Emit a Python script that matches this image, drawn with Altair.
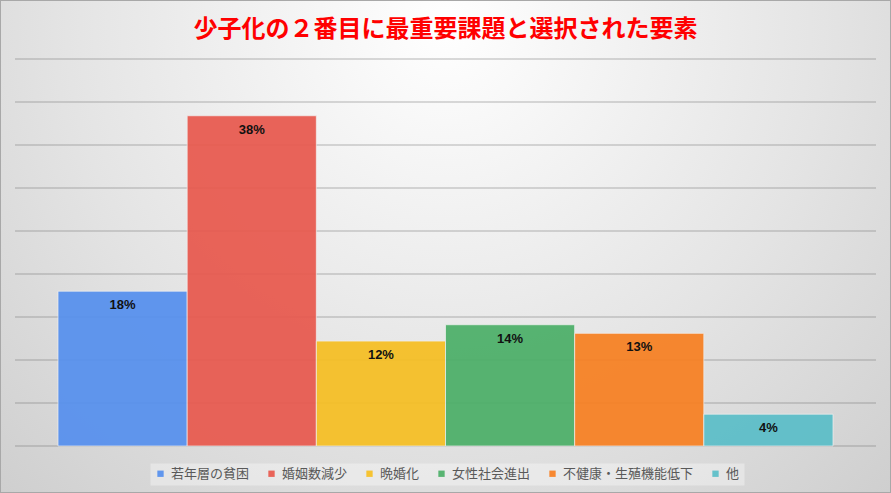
import altair as alt
import pandas as pd

categories = ["若年層の貧困", "婚姻数減少", "晩婚化", "女性社会進出", "不健康・生殖機能低下", "他"]
values = [18.0, 38.4, 12.2, 14.1, 13.1, 3.7]
colors = ["#5690EE", "#E8594E", "#F6BF23", "#4CAF68", "#F78022", "#5BBEC8"]
grid_values = [0, 5, 10, 15, 20, 25, 30, 35, 40, 45]
title_text = "少子化の２番目に最重要課題と選択された要素"

df = pd.DataFrame({"cat": categories, "val": values})
df["label"] = [f"{round(v):d}%" for v in values]
grid_df = pd.DataFrame({"v": grid_values})

W, H = 861, 387
PL, PT, PR, PB = 15, 59, 15, 47

yscale = alt.Scale(domain=[0, 45], nice=False)
xscale = alt.Scale(domain=categories, paddingInner=0, paddingOuter=0.333)

bg_grad = alt.RadialGradient(
    gradient="radial",
    x1=0.5, y1=0.25, r1=0.0,
    x2=0.5, y2=0.25, r2=0.85,
    stops=[
        alt.GradientStop(color="#FFFFFF", offset=0),
        alt.GradientStop(color="#E4E4E4", offset=0.5),
        alt.GradientStop(color="#C6C6C6", offset=1),
    ],
)

bg = alt.Chart(pd.DataFrame({"a": [0]})).mark_rect(
    fill=bg_grad, stroke="#A8A8A8", strokeWidth=2, clip=False
).encode(
    x=alt.value(-PL), x2=alt.value(W + PR),
    y=alt.value(-PT), y2=alt.value(H + PB),
)

grid = alt.Chart(grid_df).mark_rule(color="#6E6E6E", opacity=0.33, strokeWidth=1.5).encode(
    y=alt.Y("v:Q", scale=yscale, axis=None)
)

bars = alt.Chart(df).mark_bar(
    opacity=0.93, stroke="#F2F2F2", strokeWidth=1, strokeOpacity=0.7
).encode(
    x=alt.X("cat:N", sort=categories, scale=xscale, axis=None),
    y=alt.Y("val:Q", scale=yscale, axis=None),
    color=alt.Color(
        "cat:N",
        sort=categories,
        scale=alt.Scale(domain=categories, range=colors),
        legend=alt.Legend(
            title=None,
            orient="none",
            direction="horizontal",
            legendX=135,
            legendY=404,
            symbolType="square",
            symbolSize=40,
            symbolStrokeWidth=0,
            labelFont="Noto Sans CJK JP",
            labelFontSize=13,
            labelColor="#595959",
            labelOffset=4,
            columnPadding=15,
            padding=4,
            fillColor="rgba(255,255,255,0.35)",
            strokeColor="transparent",
        ),
    ),
)

labels = alt.Chart(df).mark_text(
    font="Liberation Sans", fontSize=13, fontWeight="bold", color="#111111",
    baseline="middle", dy=14,
).encode(
    x=alt.X("cat:N", sort=categories, scale=xscale, axis=None),
    y=alt.Y("val:Q", scale=yscale, axis=None),
    text="label:N",
)

chart = alt.layer(bg, grid, bars, labels).properties(
    width=W,
    height=H,
    autosize=alt.AutoSizeParams(type="none"),
    padding={"left": PL, "top": PT, "right": PR, "bottom": PB},
    title=alt.Title(
        title_text,
        font="Noto Sans CJK JP",
        fontSize=24,
        fontWeight="bold",
        color="#FF0000",
        anchor="middle",
        baseline="bottom",
        offset=0,
        dy=67,
    ),
    background="#D0D0D0",
).configure_view(stroke=None)

chart.save("out.html", embed_options={"renderer": "svg", "actions": False})
